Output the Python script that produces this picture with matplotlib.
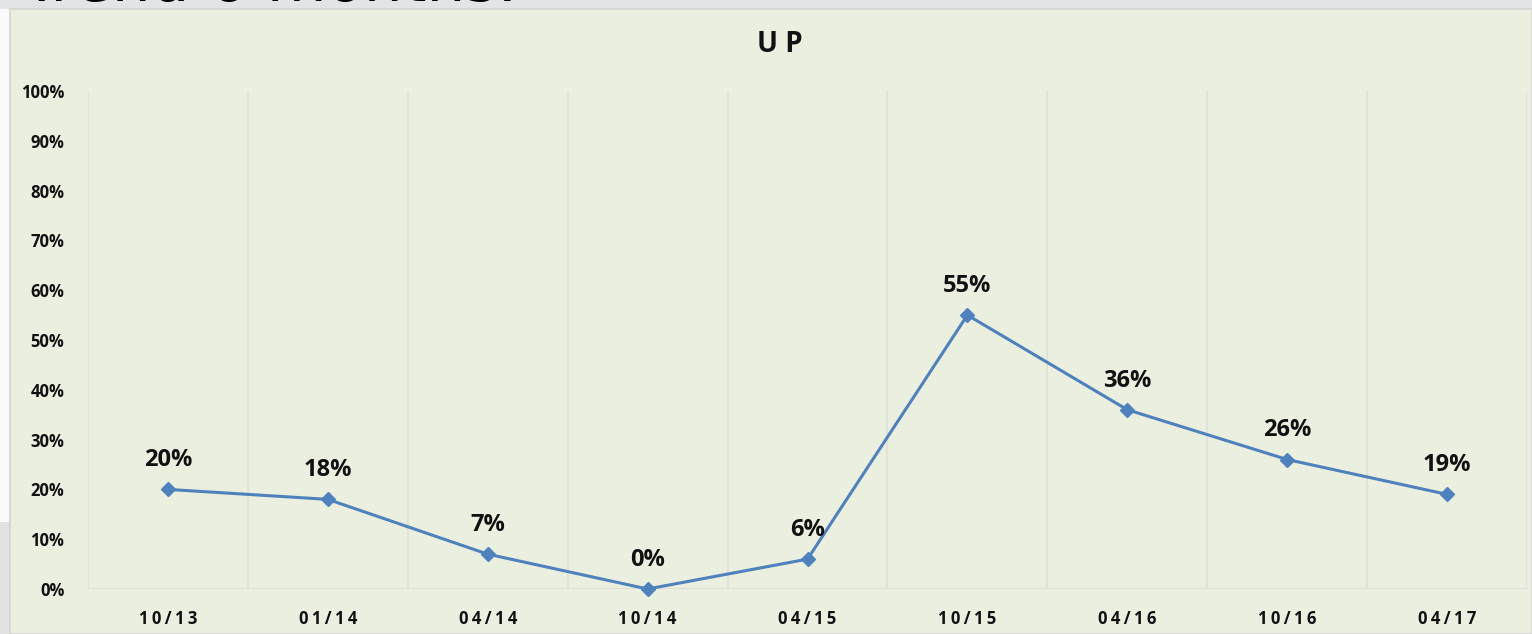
import matplotlib.pyplot as plt
from matplotlib.patches import Rectangle

# data
periods = ['10/13', '01/14', '04/14', '10/14', '04/15', '10/15', '04/16', '10/16', '04/17']
up_pct = [20, 18, 7, 0, 6, 55, 36, 26, 19]
y_ticks = [0, 10, 20, 30, 40, 50, 60, 70, 80, 90, 100]

W, H = 1532, 634
fig = plt.figure(figsize=(W / 100, H / 100), dpi=100)
fig.patch.set_facecolor('#E3E4E6')

# slide pieces around the chart panel
fig.add_artist(Rectangle((0, 0), 10 / W, 1 - 522 / H, transform=fig.transFigure,
                         facecolor='#E2E2E3', edgecolor='none', zorder=0))
fig.add_artist(Rectangle((0, 1 - 522 / H), 10 / W, (522 - 9) / H, transform=fig.transFigure,
                         facecolor='#FBFBFC', edgecolor='none', zorder=0))
fig.add_artist(Rectangle((10 / W, 0), 1 - 10 / W, 1 - 9 / H, transform=fig.transFigure,
                         facecolor='#EBEFDF', edgecolor='#D3D5D0', linewidth=1.2, zorder=0))

# slide title, mostly cut off by the top edge as in the screenshot
fig.text(22 / W, 1 - 1.5 / H, 'Trend 6 months:', fontsize=44, family='DejaVu Sans',
         color='black', ha='left', va='baseline')

ax = fig.add_axes([88 / W, 1 - 589 / H, (1527 - 88) / W, (589 - 91) / H])
ax.set_facecolor('#EBEFDF')

x = list(range(len(periods)))
ax.plot(x, up_pct, color='#4F81BD', linewidth=2.2, marker='D', markersize=7,
        markerfacecolor='#4F81BD', markeredgecolor='#4F81BD', zorder=3, clip_on=False)

for xi, v in zip(x, up_pct):
    ax.annotate(f'{v}%', (xi, v), xytext=(0, 21), textcoords='offset points',
                ha='center', va='center', fontsize=17, fontweight='bold',
                family='Open Sans', color='#111111')

ax.set_xlim(-0.5, len(periods) - 0.5)
ax.set_ylim(0, 100)

# category boundary gridlines
for b in range(len(periods) + 1):
    ax.axvline(b - 0.5, color='#DDE0D6', linewidth=1.1, zorder=1)
ax.axhline(0, color='#DCDFD5', linewidth=1.5, zorder=1)

ax.set_xticks(x)
ax.set_xticklabels(['\u2009'.join(p) for p in periods])
ax.set_yticks(y_ticks)
ax.set_yticklabels([f'{t}%' for t in y_ticks])
ax.tick_params(length=0, labelsize=12, colors='#111111')
ax.tick_params(axis='x', pad=15)
ax.tick_params(axis='y', pad=17)
for lab in ax.get_xticklabels() + ax.get_yticklabels():
    lab.set_fontweight('bold')
    lab.set_family(['Open Sans', 'DejaVu Sans'])

for s in ax.spines.values():
    s.set_visible(False)

fig.text(780 / W, 1 - 45 / H, 'U P', fontsize=20, fontweight='bold', family='Open Sans',
         ha='center', va='center', color='#111111')

fig.savefig('out.png', dpi=100, facecolor=fig.get_facecolor())
